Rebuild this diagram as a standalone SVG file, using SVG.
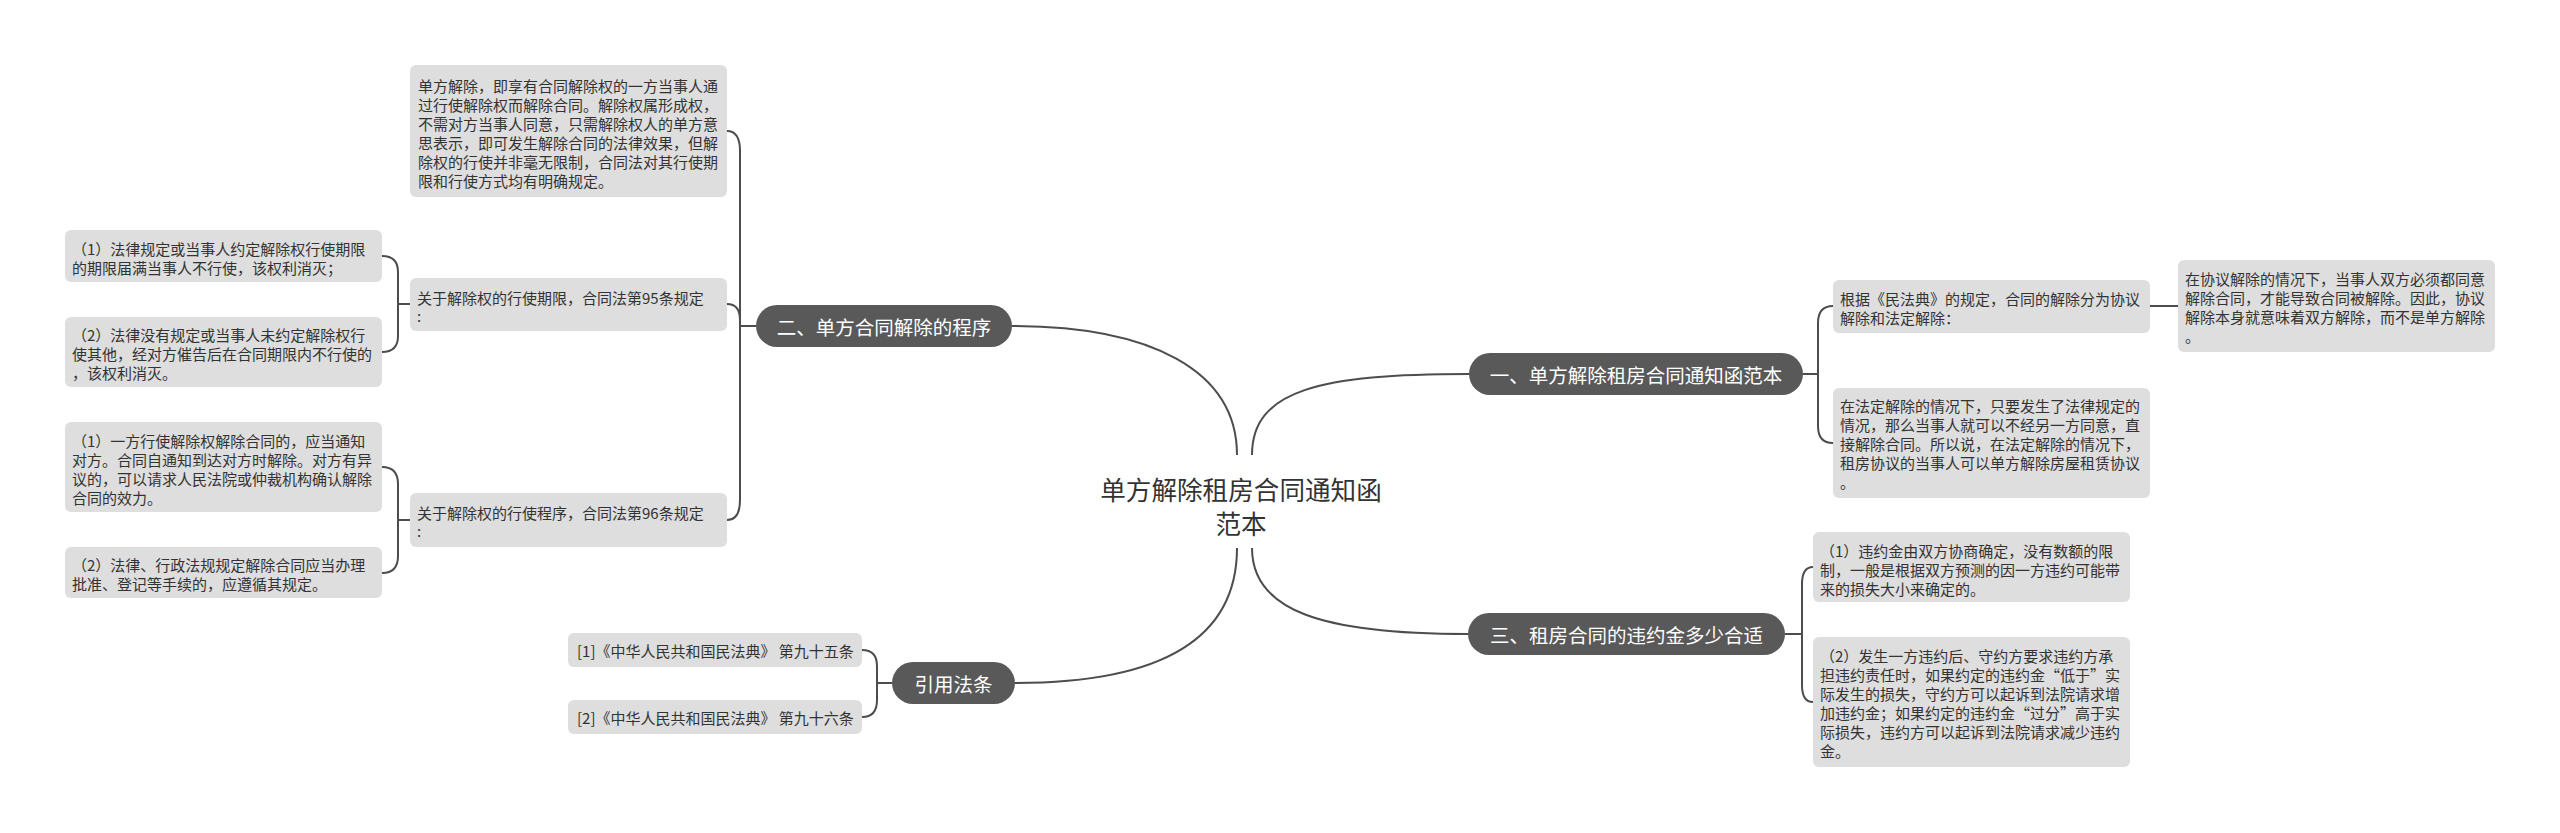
<svg xmlns="http://www.w3.org/2000/svg" width="2560" height="833" viewBox="0 0 2560 833">
<style>
.bg{fill:#ffffff}
.leaf{fill:#dedede}
.br{fill:#595959}
.t{font-family:"Noto Sans CJK SC","Noto Sans",sans-serif;font-size:15px;fill:#333333;dominant-baseline:central}
.n{font-family:"Noto Sans CJK SC","Noto Sans",sans-serif;font-size:19.5px;fill:#ffffff;dominant-baseline:central;text-anchor:middle}
.c{font-family:"Noto Sans CJK SC","Noto Sans",sans-serif;font-size:25.6px;fill:#333333;dominant-baseline:central;text-anchor:middle}
.ln{fill:none;stroke:#4d4d4d;stroke-width:2}
</style>
<rect class="bg" x="0" y="0" width="2560" height="833"/>
<g id="connectors">
<path class="ln" d="M1012,326 C1150,326 1237,370 1237,455"/>
<path class="ln" d="M1252,455 C1252,390 1320,374 1469,374"/>
<path class="ln" d="M1237,548 C1237,640 1160,683 1015,683"/>
<path class="ln" d="M1252,548 C1252,610 1320,634 1468,634"/>
<path class="ln" d="M756,326 L740,326 L740,151 Q740,131 727,131"/>
<path class="ln" d="M740,326 L740,320 Q740,304 727,304"/>
<path class="ln" d="M740,326 L740,500 Q740,520 727,520"/>
<path class="ln" d="M410,304 L398,304 L398,272 Q398,256 382,256"/>
<path class="ln" d="M398,304 L398,336 Q398,352 382,352"/>
<path class="ln" d="M410,520 L398,520 L398,484 Q398,467 382,467"/>
<path class="ln" d="M398,520 L398,556 Q398,573 382,573"/>
<path class="ln" d="M892,683 L877,683 L877,666 Q877,650 862,650"/>
<path class="ln" d="M877,683 L877,700 Q877,717 862,717"/>
<path class="ln" d="M1803,374 L1818,374 L1818,323 Q1818,306 1833,306"/>
<path class="ln" d="M1818,374 L1818,426 Q1818,443 1833,443"/>
<path class="ln" d="M2150,306 L2178,306"/>
<path class="ln" d="M1785,634 L1802,634 L1802,584 Q1802,567 1813,567"/>
<path class="ln" d="M1802,634 L1802,685 Q1802,702 1813,702"/>
</g>
<g id="center">
<text class="c" x="1241" y="488">单方解除租房合同通知函</text>
<text class="c" x="1241" y="522">范本</text>
</g>
<g id="branch2">
<rect class="br" x="756" y="305" width="256" height="42" rx="21"/>
<text class="n" x="884" y="326">二、单方合同解除的程序</text>
</g>
<g id="leaf-def">
<rect class="leaf" x="410" y="65" width="317" height="132" rx="6"/>
<text class="t" x="418" y="85">单方解除，即享有合同解除权的一方当事人通</text>
<text class="t" x="418" y="104">过行使解除权而解除合同。解除权属形成权，</text>
<text class="t" x="418" y="123">不需对方当事人同意，只需解除权人的单方意</text>
<text class="t" x="418" y="142">思表示，即可发生解除合同的法律效果，但解</text>
<text class="t" x="418" y="161">除权的行使并非毫无限制，合同法对其行使期</text>
<text class="t" x="418" y="180">限和行使方式均有明确规定。</text>
</g>
<g id="leaf-95">
<rect class="leaf" x="410" y="278" width="317" height="53" rx="6"/>
<text class="t" x="417" y="297">关于解除权的行使期限，合同法第95条规定</text>
<text class="t" x="417" y="315">:</text>
</g>
<g id="leaf-95-1">
<rect class="leaf" x="65" y="230" width="317" height="52" rx="6"/>
<text class="t" x="72" y="248">（1）法律规定或当事人约定解除权行使期限</text>
<text class="t" x="72" y="267">的期限届满当事人不行使，该权利消灭；</text>
</g>
<g id="leaf-95-2">
<rect class="leaf" x="65" y="317" width="317" height="70" rx="6"/>
<text class="t" x="72" y="334">（2）法律没有规定或当事人未约定解除权行</text>
<text class="t" x="72" y="353">使其他，经对方催告后在合同期限内不行使的</text>
<text class="t" x="72" y="372">，该权利消灭。</text>
</g>
<g id="leaf-96">
<rect class="leaf" x="410" y="493" width="317" height="54" rx="6"/>
<text class="t" x="417" y="512">关于解除权的行使程序，合同法第96条规定</text>
<text class="t" x="417" y="530">:</text>
</g>
<g id="leaf-96-1">
<rect class="leaf" x="65" y="422" width="317" height="90" rx="6"/>
<text class="t" x="72" y="440">（1）一方行使解除权解除合同的，应当通知</text>
<text class="t" x="72" y="459">对方。合同自通知到达对方时解除。对方有异</text>
<text class="t" x="72" y="478">议的，可以请求人民法院或仲裁机构确认解除</text>
<text class="t" x="72" y="497">合同的效力。</text>
</g>
<g id="leaf-96-2">
<rect class="leaf" x="65" y="547" width="317" height="51" rx="6"/>
<text class="t" x="72" y="564">（2）法律、行政法规规定解除合同应当办理</text>
<text class="t" x="72" y="583">批准、登记等手续的，应遵循其规定。</text>
</g>
<g id="branch-ref">
<rect class="br" x="892" y="662" width="123" height="42" rx="21"/>
<text class="n" x="953.5" y="683">引用法条</text>
</g>
<g id="ref1">
<rect class="leaf" x="568" y="633" width="294" height="34" rx="6"/>
<text class="t" x="577" y="650">[1]《中华人民共和国民法典》 第九十五条</text>
</g>
<g id="ref2">
<rect class="leaf" x="568" y="700" width="294" height="34" rx="6"/>
<text class="t" x="577" y="717">[2]《中华人民共和国民法典》 第九十六条</text>
</g>
<g id="branch1">
<rect class="br" x="1469" y="353" width="334" height="42" rx="21"/>
<text class="n" x="1636" y="374">一、单方解除租房合同通知函范本</text>
</g>
<g id="leaf-basis">
<rect class="leaf" x="1833" y="280" width="317" height="53" rx="6"/>
<text class="t" x="1840" y="298">根据《民法典》的规定，合同的解除分为协议</text>
<text class="t" x="1840" y="317">解除和法定解除：</text>
</g>
<g id="leaf-agree">
<rect class="leaf" x="2178" y="260" width="317" height="92" rx="6"/>
<text class="t" x="2185" y="278">在协议解除的情况下，当事人双方必须都同意</text>
<text class="t" x="2185" y="297">解除合同，才能导致合同被解除。因此，协议</text>
<text class="t" x="2185" y="316">解除本身就意味着双方解除，而不是单方解除</text>
<text class="t" x="2185" y="335">。</text>
</g>
<g id="leaf-legal">
<rect class="leaf" x="1833" y="388" width="317" height="110" rx="6"/>
<text class="t" x="1840" y="405">在法定解除的情况下，只要发生了法律规定的</text>
<text class="t" x="1840" y="424">情况，那么当事人就可以不经另一方同意，直</text>
<text class="t" x="1840" y="443">接解除合同。所以说，在法定解除的情况下，</text>
<text class="t" x="1840" y="462">租房协议的当事人可以单方解除房屋租赁协议</text>
<text class="t" x="1840" y="481">。</text>
</g>
<g id="branch3">
<rect class="br" x="1468" y="613" width="317" height="42" rx="21"/>
<text class="n" x="1626.5" y="634">三、租房合同的违约金多少合适</text>
</g>
<g id="leaf-pen1">
<rect class="leaf" x="1813" y="532" width="317" height="70" rx="6"/>
<text class="t" x="1820" y="550">（1）违约金由双方协商确定，没有数额的限</text>
<text class="t" x="1820" y="569">制，一般是根据双方预测的因一方违约可能带</text>
<text class="t" x="1820" y="588">来的损失大小来确定的。</text>
</g>
<g id="leaf-pen2">
<rect class="leaf" x="1813" y="637" width="317" height="130" rx="6"/>
<text class="t" x="1820" y="655">（2）发生一方违约后、守约方要求违约方承</text>
<text class="t" x="1820" y="674">担违约责任时，如果约定的违约金“低于”实</text>
<text class="t" x="1820" y="693">际发生的损失，守约方可以起诉到法院请求增</text>
<text class="t" x="1820" y="712">加违约金；如果约定的违约金“过分”高于实</text>
<text class="t" x="1820" y="731">际损失，违约方可以起诉到法院请求减少违约</text>
<text class="t" x="1820" y="750">金。</text>
</g>
</svg>
